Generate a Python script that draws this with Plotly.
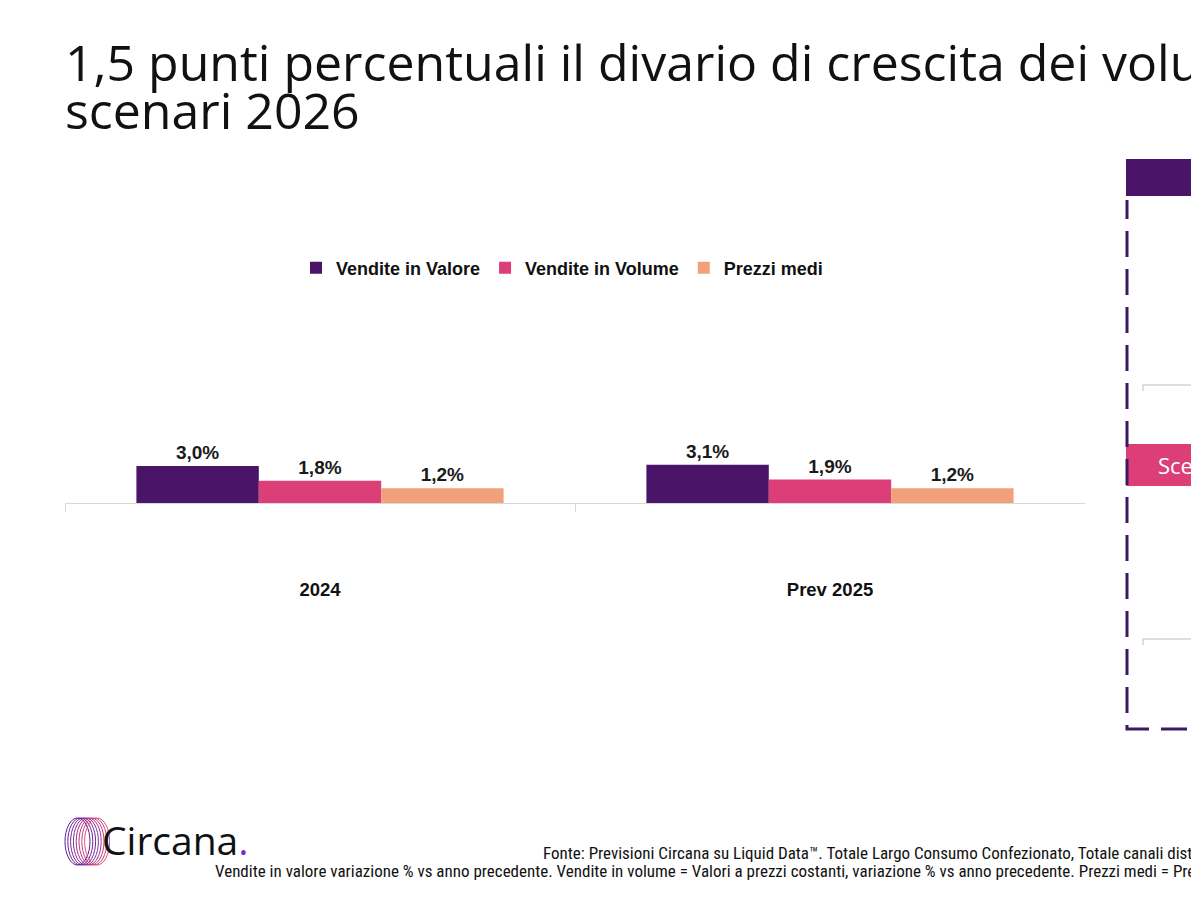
import plotly.graph_objects as go

# page body has an 8px margin: size the figure to fit the 1199x899 window
OFF = 8
W, H = 1199 - OFF, 899 - 2 * OFF


def px(x):
    return (x - OFF) / W


def py(y):
    return 1 - (y - OFF) / H


# ---------------- data ----------------
categories = ["2024", "Prev 2025"]
series_names = ["Vendite in Valore", "Vendite in Volume", "Prezzi medi"]
vendite_valore = [3.0, 3.1]
vendite_volume = [1.8, 1.9]
prezzi_medi = [1.2, 1.2]

title_line1 = "1,5 punti percentuali il divario di crescita dei volumi tra i due"
title_line2 = "scenari 2026"
note_line1 = ("Fonte: Previsioni Circana su Liquid Data\u2122. Totale Largo Consumo Confezionato, "
              "Totale canali distributivi")
note_line2 = ("Vendite in valore variazione % vs anno precedente. Vendite in volume = Valori a prezzi "
              "costanti, variazione % vs anno precedente. Prezzi medi = Prezzi medi variazione %")
panel_label = "Scenario 1"

# ---------------- style ----------------
colors = ["#4a1568", "#dc3f78", "#f2a07b"]
PURPLE = "#4a1568"
DASH_PURPLE = "#3b1a63"
PINK = "#dc3f78"
BOLD = "Liberation Sans, Arial, sans-serif"
NARROW = "Liberation Sans Narrow, Roboto Condensed, Roboto"

fig = go.Figure()
for name, vals, col in zip(series_names, [vendite_valore, vendite_volume, prezzi_medi], colors):
    fig.add_trace(go.Bar(
        x=categories, y=vals, name=name,
        marker=dict(color=col, line=dict(width=0)),
        texttemplate="%{y:.1f}%", textposition="outside",
        textfont=dict(family=BOLD, size=19, color="#1a1a1a", weight="bold"),
        cliponaxis=False,
    ))

shapes = []
# logo rings
ring_cols = ["#5b1f8f", "#6a2196", "#7a2399", "#8c2a97", "#a03091", "#b8368a", "#d03c7f", "#e4507a"]
for i, c in enumerate(ring_cols):
    x0 = 65 + i * 2.8
    shapes.append(dict(type="circle", xref="paper", yref="paper",
                       x0=px(x0), x1=px(x0 + 25), y0=py(865), y1=py(818),
                       line=dict(color=c, width=1)))

# right panel
shapes.append(dict(type="rect", xref="paper", yref="paper", x0=px(1126), x1=px(1240),
                   y0=py(196), y1=py(159), fillcolor=PURPLE, line=dict(width=0), layer="above"))
shapes.append(dict(type="rect", xref="paper", yref="paper", x0=px(1126), x1=px(1240),
                   y0=py(486), y1=py(444), fillcolor=PINK, line=dict(width=0), layer="above"))
for yy in (385, 639):
    shapes.append(dict(type="path", xref="paper", yref="paper",
                       path=f"M {px(1143)},{py(yy + 6)} L {px(1143)},{py(yy)} L {px(1240)},{py(yy)}",
                       line=dict(color="#d4d4d4", width=1.5)))
shapes.append(dict(type="path", xref="paper", yref="paper",
                   path=f"M {px(1187)},{py(729)} L {px(1127)},{py(729)} L {px(1127)},{py(200)}",
                   line=dict(color=DASH_PURPLE, width=3, dash="26px,12px")))

annotations = [
    dict(text=title_line1, x=px(63), y=py(62), xref="paper", yref="paper", xanchor="left",
         yanchor="middle", showarrow=False, font=dict(family="Open Sans", size=50, color="#111111")),
    dict(text=title_line2, x=px(63), y=py(110), xref="paper", yref="paper", xanchor="left",
         yanchor="middle", showarrow=False, font=dict(family="Open Sans", size=50, color="#111111")),
    dict(text="Circana<span style='color:#7b2cbf'>.</span>", x=px(100), y=py(839), xref="paper",
         yref="paper", xanchor="left", yanchor="middle", showarrow=False,
         font=dict(family="Open Sans", size=39, color="#111111")),
    dict(text=note_line1, x=px(541), y=py(853), xref="paper", yref="paper", xanchor="left",
         yanchor="middle", showarrow=False, font=dict(family=NARROW, size=17, color="#111111")),
    dict(text=note_line2, x=px(213), y=py(871), xref="paper", yref="paper", xanchor="left",
         yanchor="middle", showarrow=False, font=dict(family=NARROW, size=17, color="#111111")),
    dict(text=panel_label, x=px(1156), y=py(465), xref="paper", yref="paper", xanchor="left",
         yanchor="middle", showarrow=False, font=dict(family="Open Sans", size=22, color="white")),
]

fig.update_layout(
    width=W, height=H,
    margin=dict(l=0, r=0, t=0, b=0),
    paper_bgcolor="white", plot_bgcolor="white",
    separators=",.",
    barmode="group", bargap=0.28, bargroupgap=0,
    showlegend=True,
    legend=dict(orientation="h", x=px(562), xanchor="center", y=py(268), yanchor="middle",
                font=dict(family=BOLD, size=18, color="#111111", weight="bold"),
                itemwidth=30, traceorder="normal"),
    xaxis=dict(domain=[px(65), px(1085)], range=[-0.5, 1.5], type="category",
               showline=True, linecolor="#d9d9d9", linewidth=1,
               ticks="outside", tickson="boundaries", ticklen=8, tickcolor="#d9d9d9",
               tickfont=dict(family=BOLD, size=18.5, color="#111111", weight="bold"),
               ticklabelstandoff=70, showgrid=False, zeroline=False),
    yaxis=dict(domain=[py(503), py(300)], range=[0, 16.5], visible=False),
    shapes=shapes,
    annotations=annotations,
)

fig.write_html("out.html")
